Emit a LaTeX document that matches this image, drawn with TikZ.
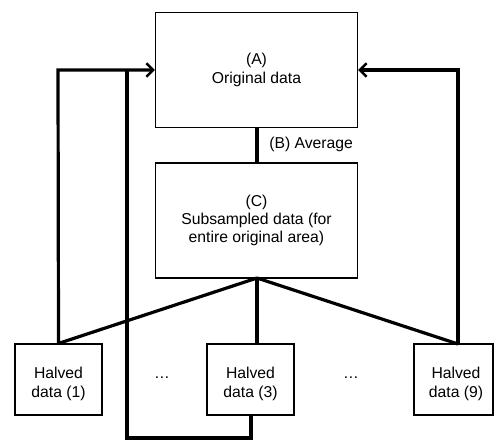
\documentclass[tikz,border=0pt]{standalone}
\usepackage{fontspec}
\setmainfont{Liberation Sans}
\usetikzlibrary{arrows.meta}
\begin{document}
\begin{tikzpicture}[x=0.75pt,y=-0.75pt,
  box/.style={draw,line width=1.1pt,inner sep=0pt,align=center,font=\fontsize{11.8}{13.8}\selectfont},
  conn/.style={line width=2.4pt},
  arr/.style={conn,-{Straight Barb[length=5pt,width=10pt,line width=1.8pt]}},
  lbl/.style={font=\fontsize{11.8}{13.8}\selectfont,inner sep=0pt,align=center}]
\useasboundingbox (0,0) rectangle (494,440);
\node[box,minimum width=151.5pt,minimum height=86.5pt] (A) at (256.5,70) {(A)\\Original data};
\node[box,minimum width=151.5pt,minimum height=86.5pt] (C) at (256.5,220.5) {(C)\\Subsampled data (for\\entire original area)};
\node[box,minimum width=65pt,minimum height=53pt] (H1) at (58.5,379.5) {};
\node[box,minimum width=65pt,minimum height=53pt] (H3) at (250.5,379.5) {};
\node[box,minimum width=59pt,minimum height=53pt] (H9) at (453.5,379.5) {};
\node[lbl] (H1t) at (58.5,384) {Halved\\data (1)};
\node[lbl] (H3t) at (250.5,384) {Halved\\data (3)};
\node[lbl] (H9t) at (456,384) {Halved\\data (9)};
\node[lbl] (d1) at (162,378) {\dots};
\node[lbl] (d2) at (351,378) {\dots};
\node[lbl,anchor=west] (B) at (269,144) {(B) Average};
\coordinate (C0) at (257,278);
\draw[conn] (A.south -| C0) -- (C.north -| C0);
\draw[conn] (C0) -- (H1.north);
\draw[conn] (C0) -- (C0 |- H3.north);
\draw[conn] (C0) -- (458,344);
\coordinate (L1) at (58,70);
\coordinate (L2) at (127,70);
\coordinate (R1) at (458,70);
\draw[arr] (H1.north) -- (L1) -- (A.west);
\draw[arr] (458,344) -- (R1) -- (A.east);
\coordinate (B3) at (251,438);
\draw[conn] (H3.south -| B3) -- (B3) -- (127,438) -- (L2);
\end{tikzpicture}
\end{document}
